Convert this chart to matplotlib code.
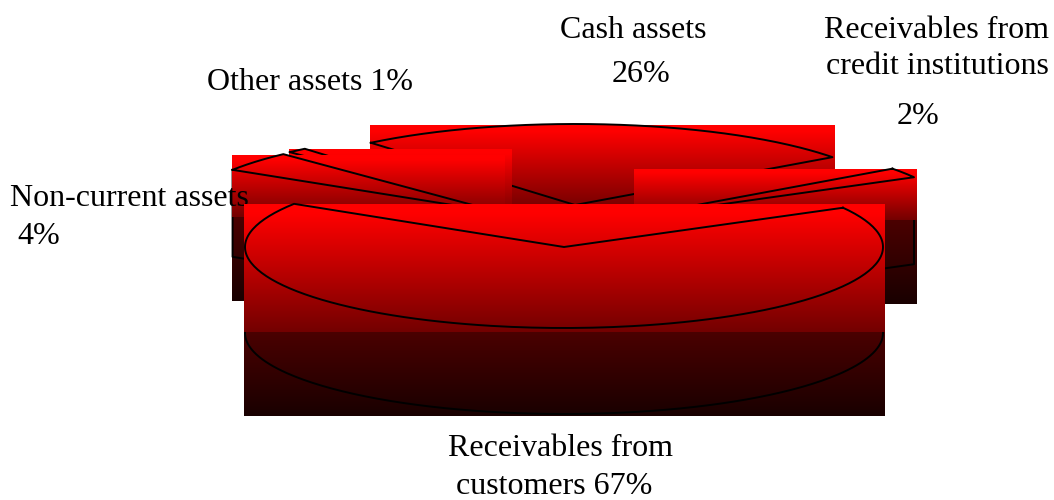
import matplotlib
matplotlib.use("Agg")
import matplotlib.pyplot as plt
import numpy as np

names = ["Receivables from customers", "Non-current assets", "Other assets", "Cash assets", "Receivables from credit institutions"]
shares = [67, 4, 1, 26, 2]

# pie geometry, pixels
start_angle = -29
rx = 319
ry = 81
depth = 87
centers = [(564, 247), (502.5, 213), (509, 211), (575, 205), (635, 216.5)]
draw_order = [3, 2, 1, 4, 0]

label_lines = ["Cash assets", "26%", "Receivables from", "credit institutions", "2%",
               "Other assets 1%", "Non-current assets", "4%", "Receivables from", "customers 67%"]
label_pos = [(633, 31), (641, 74), (937, 31), (937, 67), (918, 116),
             (310, 83), (129, 199), (39, 236), (560, 449), (554, 487)]

plt.rcParams["font.family"] = ["Liberation Serif", "DejaVu Serif"]
fig = plt.figure(figsize=(10.54, 5), dpi=100)
ax = fig.add_axes([0, 0, 1, 1])


def gradient(v0, v1, hold=0.0, n=256):
    f = np.linspace(0, 1, n)
    f = np.clip((f - hold) / (1 - hold), 0, 1)
    img = np.zeros((n, 1, 3))
    img[:, 0, 0] = (v0 + (v1 - v0) * f) / 255
    return img


def fill(x0, x1, y0, y1, img, z):
    ax.imshow(img, extent=(x0, x1, y1, y0), aspect="auto", interpolation="bilinear", zorder=z)


def ring(cx, cy, t0, t1):
    t = np.radians(np.linspace(t0, t1, 200))
    return cx + rx * np.cos(t), cy + ry * np.sin(t)


# cumulative slice angles
ends = start_angle + np.cumsum(shares) * 3.6
starts = ends - np.array(shares) * 3.6

for z, i in enumerate(draw_order):
    base = z * 10 + 1
    cx, cy = centers[i]
    x, y = ring(cx, cy, starts[i], ends[i])
    xs = np.append(x, cx)
    ys = np.append(y, cy)
    left, right = xs.min() - 1, xs.max() + 2
    top, face_bottom = ys.min() + 1, ys.max() + 4
    bottom = cy + depth + 1 + (ry if ys.max() > cy + 1 else 0)

    fill(left, right, face_bottom, bottom, gradient(75, 25), base)

    # side walls
    if i == 0:
        ax.plot(*ring(cx, cy + depth - 1, 0, 180), color="k", lw=1.4, zorder=base + 1)
        ax.plot([cx - rx, cx - rx], [cy, cy + depth - 1], color="k", lw=1.4, zorder=base + 1)
        ax.plot([cx + rx, cx + rx], [cy, cy + depth - 1], color="k", lw=1.4, zorder=base + 1)
    elif i == 1:
        ax.plot([x[0], x[0], cx], [y[0], y[0] + depth, cy + depth], color="k", lw=1.4, zorder=base + 1)
    elif i == 4:
        ax.plot([x[-1], x[-1], cx], [y[-1], y[-1] + depth, cy + depth], color="k", lw=1.4, zorder=base + 1)

    fill(left, right, top, face_bottom, gradient(255, 115, hold=0.07), base + 2)
    ax.plot(np.append(xs, x[0]), np.append(ys, y[0]), color="k", lw=1.4, zorder=base + 3)

for s, (px, py) in zip(label_lines, label_pos):
    # the front slice sits on top of the labels
    ax.text(px, py, s, ha="center", va="center", fontsize=23, color="k", zorder=35)

ax.set_xlim(0, 1054)
ax.set_ylim(500, 0)
ax.axis("off")
fig.savefig("out.png", dpi=100)
